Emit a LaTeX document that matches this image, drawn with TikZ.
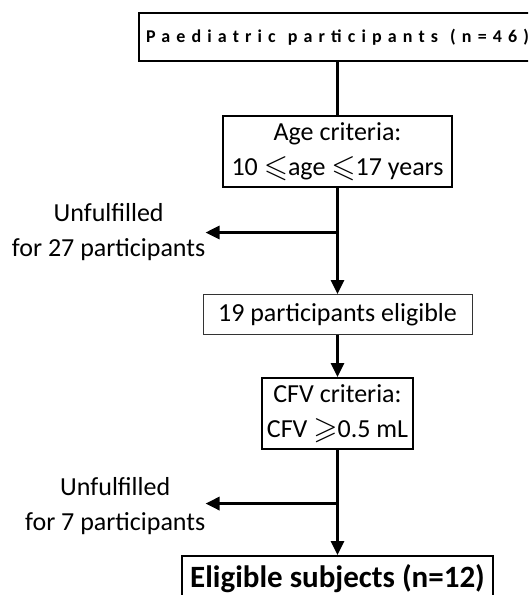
\documentclass[tikz,border=0pt]{standalone}
\usepackage{fontspec}
\usepackage{amssymb}
\usepackage{graphicx}
\setmainfont{Carlito}
\newfontfamily\spacedfont[LetterSpace=34]{Carlito}
\newcommand{\bigleq}{\raisebox{-1.5pt}{\scalebox{1.2}{$\leqslant$}}}
\newcommand{\biggeq}{\raisebox{-1.5pt}{\scalebox{1.2}{$\geqslant$}}}
\usetikzlibrary{arrows.meta, positioning}

\begin{document}
\begin{tikzpicture}[
  x=1pt, y=1pt,
  node distance=53pt,
  font=\fontsize{26}{35}\selectfont,
  box/.style={rectangle, draw, line width=2pt, align=center, inner sep=0pt},
  thinbox/.style={rectangle, draw=black!80, line width=1pt, align=center, inner sep=0pt},
  note/.style={align=center, inner sep=0pt},
  link/.style={line width=3pt},
  arrow/.style={-{Triangle[length=14pt, width=13pt]}, line width=3pt}
]

\clip (0,0) rectangle (528,-595);

% NODES
\node[box, minimum width=397pt, minimum height=48pt, font=\spacedfont\fontsize{18}{20}\selectfont\bfseries] (total) at (337.5,-37)
  {Paediatric\hspace{2pt} participants\hspace{2pt} (n=46)};
\node[box, below=53pt of total, minimum width=229pt, minimum height=71pt] (age)
  {Age criteria:\\10 \bigleq age \bigleq 17 years};
\node[thinbox, below=106pt of age, minimum width=269pt, minimum height=40pt] (elig) {19 participants eligible};
\node[box, below=42pt of elig, minimum width=151pt, minimum height=71pt] (cfv)
  {CFV criteria:\\CFV \biggeq 0.5 mL};
\node[box, below=105pt of cfv, minimum width=311pt, minimum height=46pt, font=\fontsize{31}{36}\selectfont\bfseries] (final)
  {Eligible subjects (n=12)};

% SPLITS
\path (age.south) -- coordinate[pos=0.42] (split1) (elig.north);
\path (cfv.south) -- coordinate[pos=0.51] (split2) (final.north);
\node[note, left=132pt of split1] (unf1) {Unfulfilled\\for 27 participants};
\node[note, left=132pt of split2, yshift=-3pt] (unf2) {Unfulfilled\\for 7 participants};

% FLOW
\draw[link] (total) -- (age);
\draw[arrow] (age) -- (elig);
\draw[arrow] (split1) -- (split1 -| unf1.east);
\draw[arrow] (elig) -- (cfv);
\draw[arrow] (cfv) -- (final);
\draw[arrow] (split2) -- (split2 -| unf2.east);

\end{tikzpicture}
\end{document}
